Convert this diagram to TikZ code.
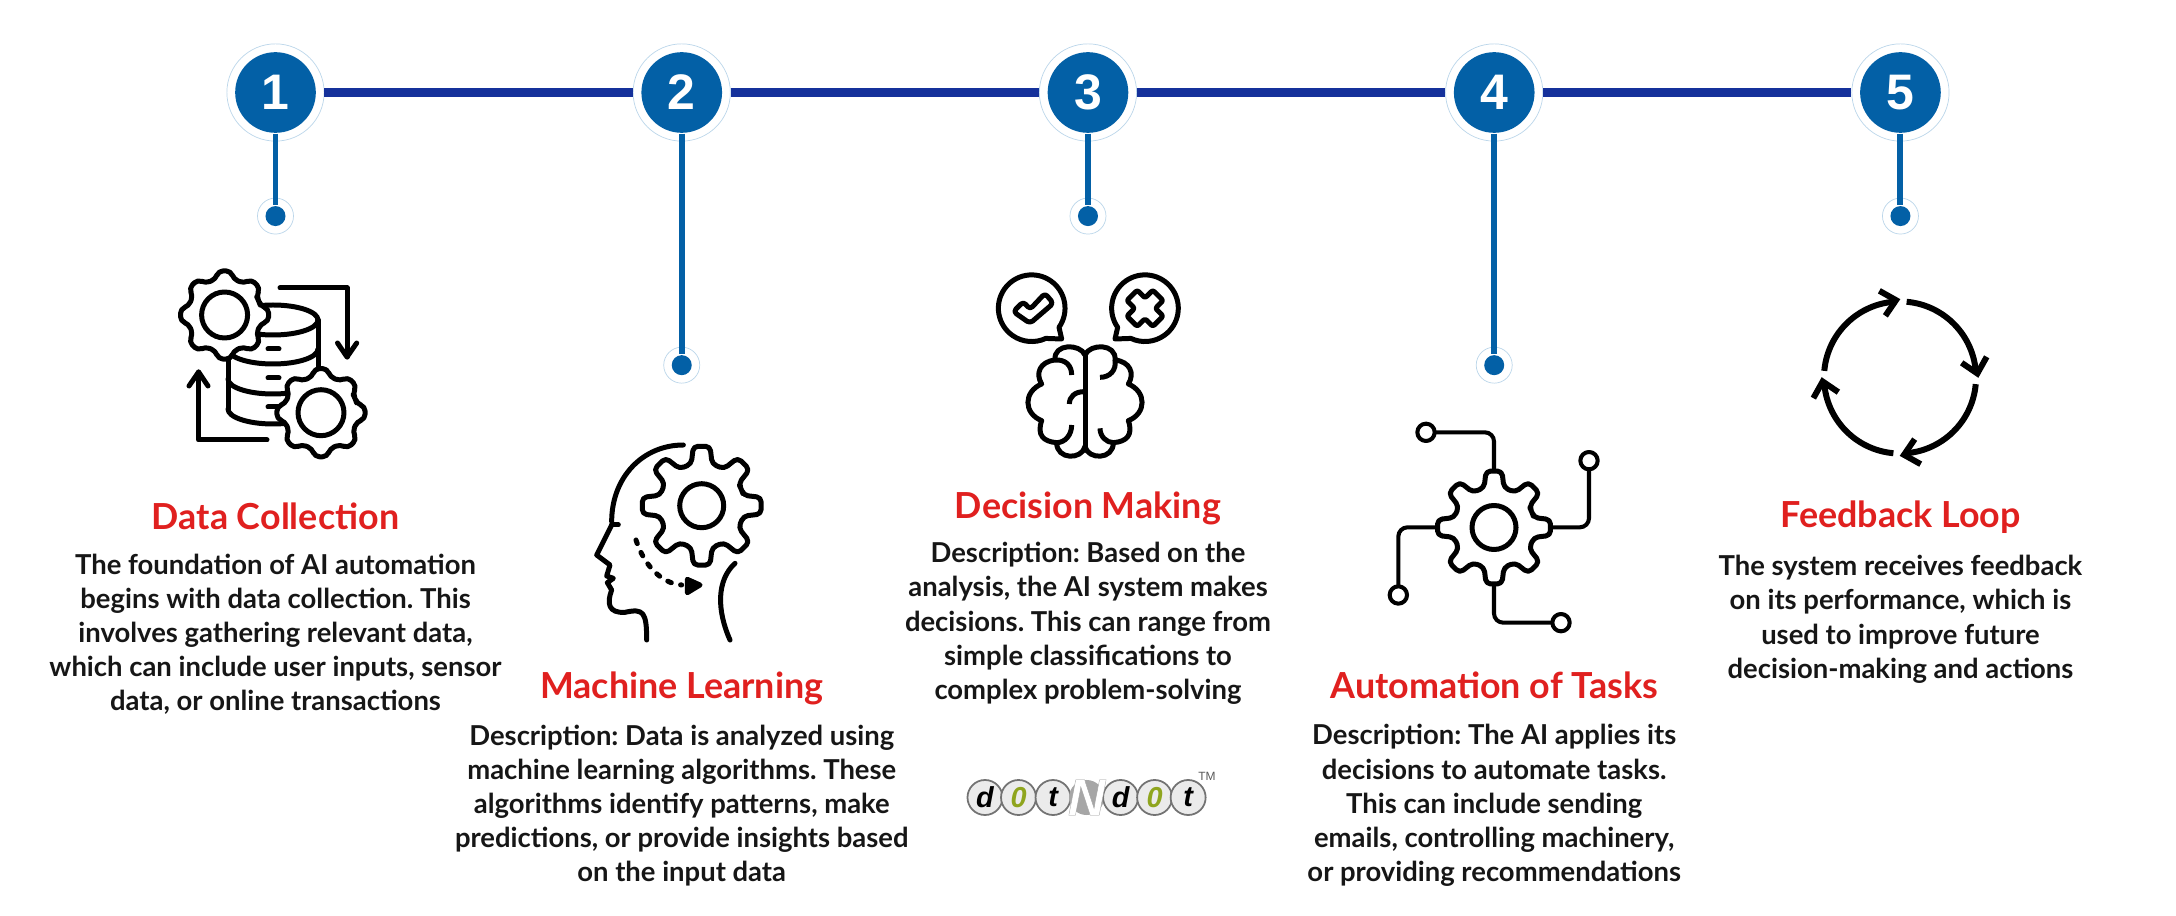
\documentclass[tikz,border=0pt]{standalone}
\usepackage{fontspec}
\setmainfont{Lato}
\frenchspacing
\newfontfamily\numfont{Liberation Sans}
\newfontfamily\logofont[FakeBold=0.6]{Liberation Sans Bold Italic}
\usetikzlibrary{positioning}
\definecolor{stepblue}{HTML}{0360A6}
\definecolor{barblue}{HTML}{15319B}
\definecolor{ringblue}{HTML}{BBD6EA}
\definecolor{titlered}{HTML}{E0201F}
\definecolor{bodyink}{HTML}{161616}
\definecolor{logoolive}{HTML}{8FA51E}
\tikzstyle{stepnum} = [
circle,
inner sep=0pt,
minimum size=0.806cm,
fill=stepblue,
text=white,
font=\numfont\bfseries\fontsize{14.2}{14.2}\selectfont
]
\tikzstyle{stepring} = [
circle,
inner sep=0pt,
minimum size=0.972cm,
draw=ringblue,
line width=0.2pt,
fill=white
]
\tikzstyle{dotmark} = [
circle,
inner sep=0pt,
minimum size=0.2cm,
fill=stepblue
]
\tikzstyle{dotring} = [
circle,
inner sep=0pt,
minimum size=0.36cm,
draw=ringblue,
line width=0.2pt,
fill=white
]
\tikzstyle{stepbar} = [
line width=2.56pt,
draw=barblue
]
\tikzstyle{stepstem} = [
line width=1.7pt,
draw=stepblue
]
\tikzstyle{steptitle} = [
inner sep=0pt,
text height=7.4pt,
text depth=0pt,
text=titlered,
font=\bfseries\fontsize{10.2}{11}\selectfont
]
\tikzstyle{stepbody} = [
inner sep=0pt,
align=center,
text=bodyink,
font=\bfseries\fontsize{7.8}{9.7}\selectfont
]
\tikzstyle{iconline} = [
line width=1.42pt,
draw=black,
line cap=round,
line join=round
]
\tikzstyle{logodisc} = [
circle,
inner sep=0pt,
minimum size=0.35cm,
draw=black!55,
line width=0.5pt,
fill=black!8,
font=\numfont\bfseries\itshape\fontsize{8.2}{8.2}\selectfont
]
\newcommand{\cogwheel}[5]{%
\begin{scope}[shift={(#1,#2)}]
	\draw[iconline,fill=white,rounded corners=1.3pt] (-22.5:#4)
	\foreach \a in {0,45,...,315} {-- (\a-14:#4) -- (\a-8:#3) -- (\a+8:#3) -- (\a+14:#4)} -- cycle;
	\draw[iconline] (0,0) circle (#5);
\end{scope}}

\begin{document}
\begin{tikzpicture}[
	x=0.01cm,
	y=-0.01cm,
	node distance=4.06cm
	]
	\useasboundingbox (0,0) rectangle (2176,916);
	
	\node[stepring] (r1) at (275.5,92.5) {};
	\node[stepring,right of=r1] (r2) {};
	\node[stepring,right of=r2] (r3) {};
	\node[stepring,right of=r3] (r4) {};
	\node[stepring,right of=r4] (r5) {};
	
	\node[stepnum] (n1) at (r1) {1};
	\node[stepnum] (n2) at (r2) {2};
	\node[stepnum] (n3) at (r3) {3};
	\node[stepnum] (n4) at (r4) {4};
	\node[stepnum] (n5) at (r5) {5};
	
	\node[dotring,below of=r1,node distance=1.235cm] (o1) {};
	\node[dotring,below of=r2,node distance=2.725cm] (o2) {};
	\node[dotring,below of=r3,node distance=1.235cm] (o3) {};
	\node[dotring,below of=r4,node distance=2.725cm] (o4) {};
	\node[dotring,below of=r5,node distance=1.235cm] (o5) {};
	
	\node[dotmark] (d1) at (o1) {};
	\node[dotmark] (d2) at (o2) {};
	\node[dotmark] (d3) at (o3) {};
	\node[dotmark] (d4) at (o4) {};
	\node[dotmark] (d5) at (o5) {};
	
	\draw[stepbar] (r1) -- (r2);
	\draw[stepbar] (r2) -- (r3);
	\draw[stepbar] (r3) -- (r4);
	\draw[stepbar] (r4) -- (r5);
	
	\draw[stepstem] (n1) -- (d1);
	\draw[stepstem] (n2) -- (d2);
	\draw[stepstem] (n3) -- (d3);
	\draw[stepstem] (n4) -- (d4);
	\draw[stepstem] (n5) -- (d5);
	
	\node[steptitle,below of=r1,node distance=4.235cm] (t1) {Data Collection};
	\node[steptitle,below of=r2,node distance=5.925cm] (t2) {Machine Learning};
	\node[steptitle,below of=r3,node distance=4.125cm] (t3) {Decision Making};
	\node[steptitle,below of=r4,node distance=5.925cm] (t4) {Automation of Tasks};
	\node[steptitle,below of=r5,node distance=4.215cm] (t5) {Feedback Loop};
	
	\node[stepbody,below of=t1,node distance=1.18cm] (b1) {The foundation of AI automation\\begins with data collection. This\\involves gathering relevant data,\\which can include user inputs, sensor\\data, or online transactions};
	\node[stepbody,below of=t2,node distance=1.2cm] (b2) {Description: Data is analyzed using\\machine learning algorithms. These\\algorithms identify patterns, make\\predictions, or provide insights based\\on the input data};
	\node[stepbody,below of=t3,node distance=1.18cm] (b3) {Description: Based on the\\analysis, the AI system makes\\decisions. This can range from\\simple classifications to\\complex problem-solving};
	\node[stepbody,below of=t4,node distance=1.2cm] (b4) {Description: The AI applies its\\decisions to automate tasks.\\This can include sending\\emails, controlling machinery,\\or providing recommendations};
	\node[stepbody,below of=t5,node distance=1.05cm] (b5) {The system receives feedback\\on its performance, which is\\used to improve future\\decision-making and actions};
	
	% data collection icon
	\draw[iconline] (318,320) arc[start angle=0,end angle=-180,x radius=45,y radius=15];
	\foreach \y in {320,349,379,409}
		\draw[iconline] (318,\y) arc[start angle=0,end angle=180,x radius=45,y radius=15];
	\draw[iconline] (318,320) -- (318,409);
	\draw[iconline] (228,320) -- (228,409);
	\foreach \y in {349,378,407}
		\draw[iconline] (268,\y) -- (279,\y);
	\cogwheel{224.6}{315}{44.5}{37}{23}
	\cogwheel{321}{412.7}{44.5}{37}{23}
	\draw[iconline] (280,288) -- (347,288) -- (347,357);
	\draw[iconline] (337.5,343) -- (347,357) -- (356.7,343);
	\draw[iconline] (267,440) -- (198.6,440) -- (198.6,372);
	\draw[iconline] (189,386) -- (198.6,372) -- (208,386);
	
	% machine learning icon
	\begin{scope}[shift={(560,420)},scale=1/3]
		\draw[iconline] (370,75) .. controls (250,75) and (155,170) .. (155,305);
		\draw[iconline] (155,315) -- (175,315);
		\draw[iconline] (155,315) -- (110,405) -- (150,435) -- (140,468) -- (160,475) -- (142,488) -- (155,510) .. controls (140,550) and (145,580) .. (195,577) .. controls (250,565) and (260,575) .. (260,660);
		\draw[iconline] (525,430) .. controls (470,480) and (470,570) .. (510,660);
		\draw[iconline,dash pattern=on 1.1pt off 2.7pt] (228,360) .. controls (250,430) and (300,490) .. (365,495);
		\draw[iconline,fill=black] (382,478) -- (420,495) -- (382,518) -- cycle;
	\end{scope}
	\cogwheel{701.7}{505.7}{60}{43}{22}
	
	% decision making icon
	\begin{scope}[shift={(960,260)},scale=1/3]
		\draw[iconline] (297,202) arc[start angle=35,end angle=-295,radius=100] -- (305,237) -- cycle;
		\draw[iconline] (473,202) arc[start angle=145,end angle=475,radius=100] -- (465,237) -- cycle;
		\draw[iconline,rounded corners=1pt] (160,155) -- (190,125) -- (210,148) -- (255,100) -- (280,130) -- (210,190) -- cycle;
		\draw[iconline,rounded corners=0.6pt,shift={(555,145)},rotate=45] (-22,-22) -- (-22,-55) -- (22,-55) -- (22,-22) -- (55,-22) -- (55,22) -- (22,22) -- (22,55) -- (-22,55) -- (-22,22) -- (-55,22) -- (-55,-22) -- cycle;
		\draw[iconline] (375,280) -- (375,565);
		\foreach \m/\s in {0/1,750/-1} {
			\begin{scope}[shift={(\m,0)},xscale=\s]
				\draw[iconline] (375,285) .. controls (360,250) and (280,250) .. (285,300) .. controls (240,305) and (225,340) .. (245,372) .. controls (190,395) and (190,460) .. (245,482) .. controls (230,525) and (250,545) .. (290,548) .. controls (290,600) and (365,600) .. (375,560);
			\end{scope}
		}
		\draw[iconline,line cap=butt] (335,345) .. controls (335,315) and (315,298) .. (285,300);
		\draw[iconline,line cap=butt] (328,432) .. controls (328,410) and (345,395) .. (372,395);
		\draw[iconline,line cap=butt] (335,495) .. controls (335,525) and (315,548) .. (290,548);
		\draw[iconline,line cap=butt] (420,352) .. controls (450,352) and (470,330) .. (465,300);
		\draw[iconline,line cap=butt] (420,505) .. controls (420,530) and (440,548) .. (460,548);
	\end{scope}
	
	% automation icon
	\begin{scope}[shift={(1360,400)},scale=1/3]
		\draw[iconline,line width=1.15pt,rounded corners=2.6pt] (226,97) -| (402,210);
		\draw[iconline,line width=1.15pt,rounded corners=2.6pt] (687,210) |- (578,382);
		\draw[iconline,line width=1.15pt,rounded corners=2.6pt] (115,556) |- (226,382);
		\draw[iconline,line width=1.15pt,rounded corners=2.6pt] (575,668) -| (402,555);
		\draw[iconline,line width=1.15pt] (198,97) circle (26);
		\draw[iconline,line width=1.15pt] (687,182) circle (26);
		\draw[iconline,line width=1.15pt] (115,585) circle (26);
		\draw[iconline,line width=1.15pt] (603,668) circle (26);
	\end{scope}
	\cogwheel{1494}{527.5}{57}{41}{22}
	
	% feedback loop icon
	\begin{scope}[shift={(1900,377.5)},scale=1/3]
		\foreach \r in {0,-90,-180,-270} {
			\begin{scope}[rotate=\r]
				\draw[line width=1.7pt] (-85:228) arc[start angle=-85,end angle=-3,radius=228];
				\draw[line width=1.7pt] (185,-44) -- (232,-12) -- (260,-62);
			\end{scope}
		}
	\end{scope}
	
	% logo
	\node[logodisc] (l1) at (985,797.5) {d};
	\node[logodisc,right of=l1,node distance=0.335cm] (l2) {\textcolor{logoolive}{0}};
	\node[logodisc,right of=l2,node distance=0.345cm] (l3) {t};
	\node[logodisc,right of=l3,node distance=0.335cm,draw=none,fill=black!35] (l4) {};
	\node[logodisc,right of=l4,node distance=0.34cm] (l5) {d};
	\node[logodisc,right of=l5,node distance=0.34cm] (l6) {\textcolor{logoolive}{0}};
	\node[logodisc,right of=l6,node distance=0.335cm] (l7) {t};
	\node[inner sep=0pt,text=white,font=\logofont\fontsize{14.7}{14.7}\selectfont] (l8) at (l4) {\special{pdf:code 0.6 G}N};
	\node[inner sep=0pt,text=black!65,font=\numfont\fontsize{3.4}{3.4}\selectfont] (l9) at (1207,776) {TM};
\end{tikzpicture}
\end{document}
